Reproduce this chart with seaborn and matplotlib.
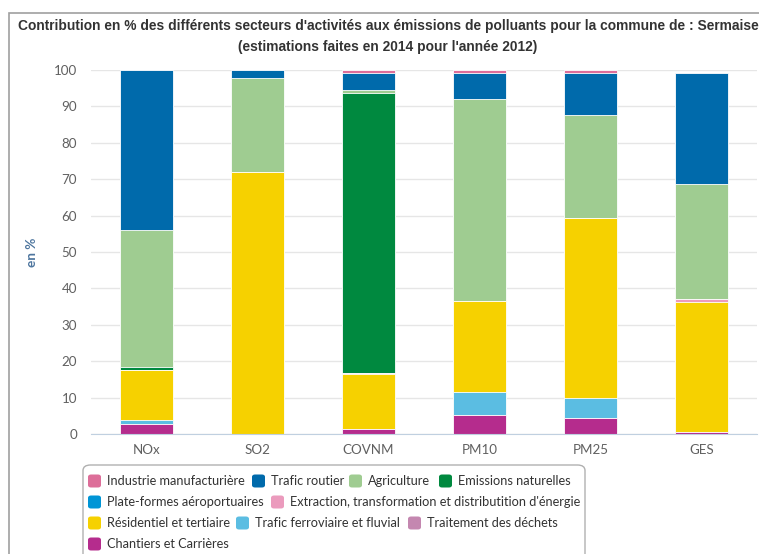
import numpy as np
import pandas as pd
import matplotlib
matplotlib.use("Agg")
import matplotlib.pyplot as plt
from matplotlib.patches import FancyBboxPatch, Rectangle
import seaborn as sns

# categories (pollutants)
polluants = ["NOx", "SO2", "COVNM", "PM10", "PM25", "GES"]

# contribution (%) of each sector
industrie = [0.0, 0.0, 0.7, 0.7, 0.9, 0.0]
trafic_routier = [44.0, 2.3, 4.7, 7.3, 11.5, 30.6]
agriculture = [37.7, 25.7, 1.0, 55.5, 28.3, 31.6]
emissions_nat = [0.6, 0.0, 76.8, 0.0, 0.0, 0.0]
plateformes = [0.0, 0.0, 0.0, 0.0, 0.0, 0.0]
extraction = [0.0, 0.0, 0.2, 0.0, 0.0, 0.7]
residentiel = [13.9, 72.0, 15.1, 24.9, 49.5, 35.8]
ferroviaire = [1.0, 0.0, 0.0, 6.3, 5.4, 0.0]
dechets = [0.0, 0.0, 0.0, 0.0, 0.0, 0.0]
chantiers = [2.8, 0.0, 1.5, 5.3, 4.4, 0.6]

secteurs = ["Industrie manufacturière", "Trafic routier", "Agriculture",
            "Emissions naturelles", "Plate-formes aéroportuaires",
            "Extraction, transformation et distributition d'énergie",
            "Résidentiel et tertiaire", "Trafic ferroviaire et fluvial",
            "Traitement des déchets", "Chantiers et Carrières"]
couleurs = ["#dd6e99", "#006aab", "#9fcc91", "#00893f", "#0095d6",
            "#eb9bbd", "#f6d100", "#5bbde2", "#c487b0", "#b52c8d"]
valeurs = [industrie, trafic_routier, agriculture, emissions_nat, plateformes,
           extraction, residentiel, ferroviaire, dechets, chantiers]

sns.set_style("white")
plt.rcParams["font.family"] = ["Lato", "DejaVu Sans"]

fig = plt.figure(figsize=(7.59, 5.54), dpi=100)
W, H = 759, 554
ax = fig.add_axes([91 / W, (H - 434) / H, 666 / W, 364 / H])

# stacking: last series in the legend is at the bottom
df = pd.DataFrame(dict(zip(secteurs, valeurs)), index=polluants)
cum = df[secteurs[::-1]].cumsum(axis=1)
# draw from the top layer down so lower layers cover upper ones
for s, c in zip(secteurs, couleurs):
    d = pd.DataFrame({"polluant": polluants, "val": cum[s].values})
    sns.barplot(data=d, x="polluant", y="val", order=polluants, color=c,
                saturation=1, width=0.48, edgecolor="white", linewidth=0.6,
                ax=ax, zorder=3)

ax.set_xlim(-0.5, 5.5)
ax.set_ylim(0, 100)
ax.set_yticks(np.arange(0, 101, 10))
ax.yaxis.grid(True, color="#e6e6e6", lw=1, zorder=0)
ax.set_axisbelow(True)
for sp in ["top", "right", "left"]:
    ax.spines[sp].set_visible(False)
ax.spines["bottom"].set_color("#c0d0e0")
ax.spines["bottom"].set_zorder(4)
ax.set_xticks(np.arange(-0.5, 6, 1), minor=True)
ax.tick_params(axis="x", which="major", length=0, pad=7, labelsize=9.6, labelcolor="#606060")
ax.tick_params(axis="x", which="minor", length=6, color="#c0d0e0", direction="out")
ax.tick_params(axis="y", length=0, pad=10, labelsize=9.6, labelcolor="#606060")
ax.set_xlabel("")
ax.set_ylabel("en %", fontsize=9.8, fontweight="bold", color="#4d759e")
ax.yaxis.set_label_coords(-53 / 666, 0.5)

# outer frame
fig.patches.append(Rectangle((9 / W, -0.05), 1.0, (H - 13) / H + 0.05,
                             transform=fig.transFigure, fill=False,
                             edgecolor="#a0a0a0", lw=1.2))

fig.text(388 / W, 1 - 26 / H, "Contribution en % des différents secteurs d'activités aux émissions de polluants pour la commune de : Sermaise",
         ha="center", va="center", fontsize=9.9, fontweight="bold", color="#333333",
         family=["Liberation Sans", "DejaVu Sans"])
fig.text(388 / W, 1 - 47 / H, "(estimations faites en 2014 pour l'année 2012)",
         ha="center", va="center", fontsize=9.9, fontweight="bold", color="#333333",
         family=["Liberation Sans", "DejaVu Sans"])

# legend box laid out like the original (flowing rows)
fig.patches.append(FancyBboxPatch((83 / W, -20 / H), 502 / W, (H - 465 + 20) / H,
                                  boxstyle="round,pad=0,rounding_size=0.01",
                                  transform=fig.transFigure, facecolor="white",
                                  edgecolor="#b0b0b0", lw=1))
rows_y = [481, 502, 523, 544]
placement = [(0, 88), (0, 252), (0, 349), (0, 439),
             (1, 88), (1, 271),
             (2, 88), (2, 236), (2, 408),
             (3, 88)]
for (r, x), s, c in zip(placement, secteurs, couleurs):
    y = rows_y[r]
    fig.patches.append(FancyBboxPatch((x / W, (H - y - 6.5) / H), 13 / W, 13 / H,
                                      boxstyle="round,pad=0,rounding_size=0.004",
                                      transform=fig.transFigure, facecolor=c,
                                      edgecolor="none"))
    fig.text((x + 19) / W, 1 - y / H, s, ha="left", va="center",
             fontsize=9.2, color="#333333")

fig.savefig("out.png", dpi=100)
